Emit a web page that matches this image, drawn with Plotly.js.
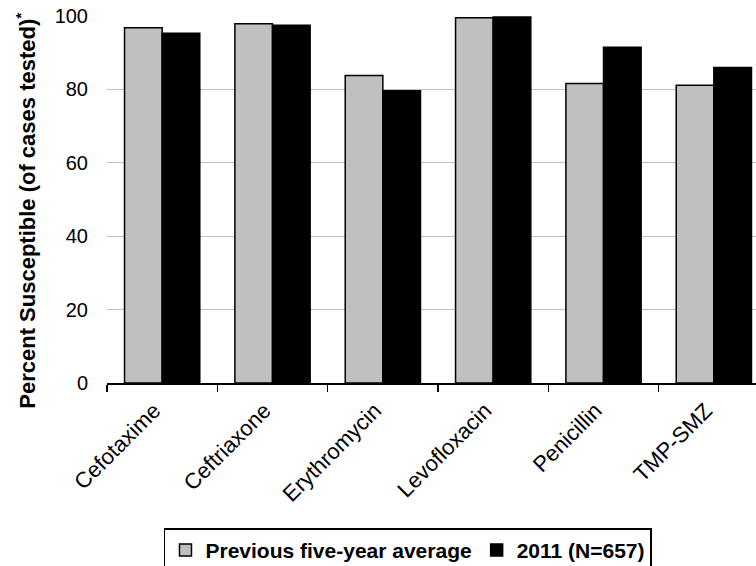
<!DOCTYPE html>
<html>
<head>
<meta charset="utf-8">
<script src="https://cdn.plot.ly/plotly-3.0.1.min.js"></script>
<style>html,body{margin:0;padding:0;background:#fff;}#chart{width:756px;height:566px;}</style>
</head>
<body>
<div id="chart"></div>
<script>
const categories = ["Cefotaxime", "Ceftriaxone", "Erythromycin", "Levofloxacin", "Penicillin", "TMP-SMZ"];
const previousAvg = [96.8, 97.9, 83.8, 99.5, 81.6, 81.1];
const year2011 = [95.3, 97.5, 79.6, 99.7, 91.5, 86.0];
const yTicks = [0, 20, 40, 60, 80, 100];
const yTitle = "Percent Susceptible (of cases tested)<sup>*</sup>";

const traces = [
  {
    type: "bar", name: "Previous five-year average", x: categories, y: previousAvg,
    marker: {color: "#C0C0C0", line: {color: "#000000", width: 1.5}}
  },
  {
    type: "bar", name: "2011 (N=657)", x: categories, y: year2011,
    marker: {color: "#000000", line: {color: "#000000", width: 1.5}}
  }
];

const layout = {
  width: 756, height: 566,
  margin: {l: 107, r: 0, t: 16, b: 182.5, autoexpand: false},
  paper_bgcolor: "#ffffff", plot_bgcolor: "#ffffff",
  font: {family: "Liberation Sans, Arial, sans-serif", color: "#000000"},
  barmode: "group", bargap: 0.318, bargroupgap: 0,
  showlegend: true,
  legend: {
    orientation: "h", x: 0.0878, xanchor: "left", y: -0.396, yanchor: "top",
    bordercolor: "#000000", borderwidth: 1.5, bgcolor: "#ffffff",
    font: {size: 21, family: "Liberation Sans, Arial, sans-serif", weight: "bold", color: "#000"},
    itemwidth: 30, traceorder: "normal"
  },
  xaxis: {
    type: "category", range: [-0.5, 5.382], tickson: "boundaries", automargin: false,
    ticks: "outside", ticklen: 7, tickwidth: 1.5, tickcolor: "#000",
    showline: true, linecolor: "#000", linewidth: 2,
    tickangle: -45, tickfont: {size: 22}, ticklabelstandoff: 4, ticklabelshift: -8,
    showgrid: false, fixedrange: true
  },
  yaxis: {
    range: [0, 100], tickvals: yTicks, ticktext: yTicks.map(String), automargin: false,
    showgrid: true, gridcolor: "#BFBFBF", gridwidth: 1.2,
    zeroline: false, showline: false, ticks: "", ticklen: 0,
    tickfont: {size: 20}, ticklabelstandoff: 18,
    fixedrange: true
  },
  annotations: [{
    text: yTitle, textangle: -90, showarrow: false,
    xref: "paper", yref: "paper", x: -0.125, y: 0.469, xanchor: "center", yanchor: "middle",
    font: {size: 22, weight: "bold", family: "Liberation Sans, Arial, sans-serif", color: "#000"}
  }]
};

Plotly.newPlot("chart", traces, layout, {staticPlot: true, displayModeBar: false});
</script>
</body>
</html>
